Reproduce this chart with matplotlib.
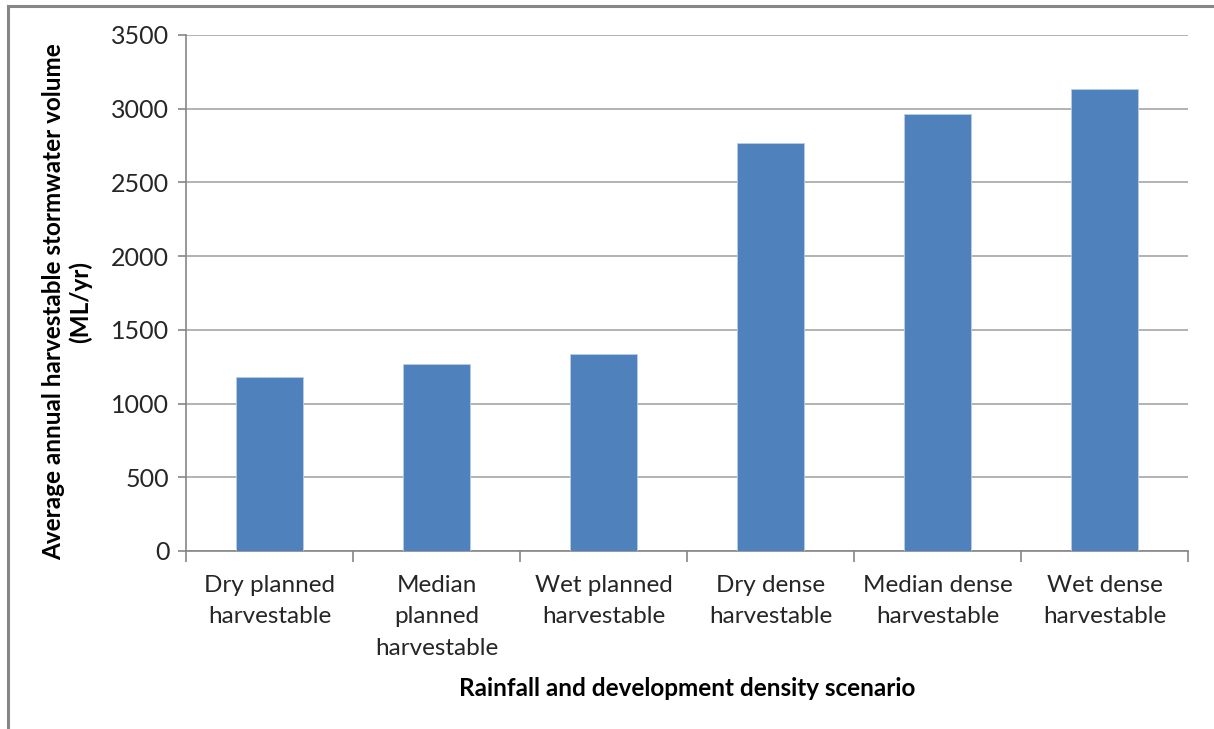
import numpy as np
import matplotlib.pyplot as plt
from matplotlib.lines import Line2D

plt.rcParams['font.family'] = ['Lato', 'DejaVu Sans']

categories = ['Dry planned\nharvestable', 'Median\nplanned\nharvestable', 'Wet planned\nharvestable',
              'Dry dense\nharvestable', 'Median dense\nharvestable', 'Wet dense\nharvestable']
volumes = [1183, 1267, 1334, 2766, 2965, 3132]
yticks = [0, 500, 1000, 1500, 2000, 2500, 3000, 3500]

W, H = 1214, 729
fig = plt.figure(figsize=(W / 100, H / 100), dpi=100)
ax = fig.add_axes([186 / W, 1 - 551 / H, (1188 - 186) / W, (551 - 35) / H])

x = np.arange(len(categories))
ax.bar(x, volumes, width=0.4, color='#4f81bd', edgecolor='#b9cde5', linewidth=0.6, zorder=3)

ax.set_xlim(-0.5, len(categories) - 0.5)
ax.set_ylim(0, 3500)
ax.set_yticks(yticks)
ax.set_yticklabels([str(v) for v in yticks], fontsize=18, color='#262626')
ax.grid(axis='y', color='#a6a6a6', linewidth=1.2, zorder=0)

ax.set_xticks(x)
ax.set_xticklabels(categories, fontsize=17.5, color='#262626', linespacing=1.63, va='top')
ax.tick_params(axis='x', which='major', length=0, pad=17)
ax.set_xticks(np.arange(len(categories) + 1) - 0.5, minor=True)
ax.tick_params(axis='x', which='minor', length=8, color='#868686', width=1.2)
ax.tick_params(axis='y', length=6, color='#868686', width=1.2, pad=6)

for side in ['top', 'right']:
    ax.spines[side].set_visible(False)
for side in ['left', 'bottom']:
    ax.spines[side].set_color('#868686')
    ax.spines[side].set_linewidth(1.2)

fig.text(67 / W, 1 - 302 / H, 'Average annual harvestable stormwater volume\n(ML/yr)',
         rotation=90, ha='center', va='center', fontsize=17.5, fontweight='bold', linespacing=1.15)
fig.text(687 / W, 1 - 688 / H, 'Rainfall and development density scenario',
         ha='center', va='center', fontsize=17.5, fontweight='bold')

# chart area border (top and left edges visible)
fig.add_artist(Line2D([7.5 / W, 1], [1 - 6 / H, 1 - 6 / H], color='#868686', linewidth=2.2))
fig.add_artist(Line2D([7.5 / W, 7.5 / W], [0, 1 - 6 / H], color='#868686', linewidth=2.2))

fig.savefig('out.png', dpi=100)
